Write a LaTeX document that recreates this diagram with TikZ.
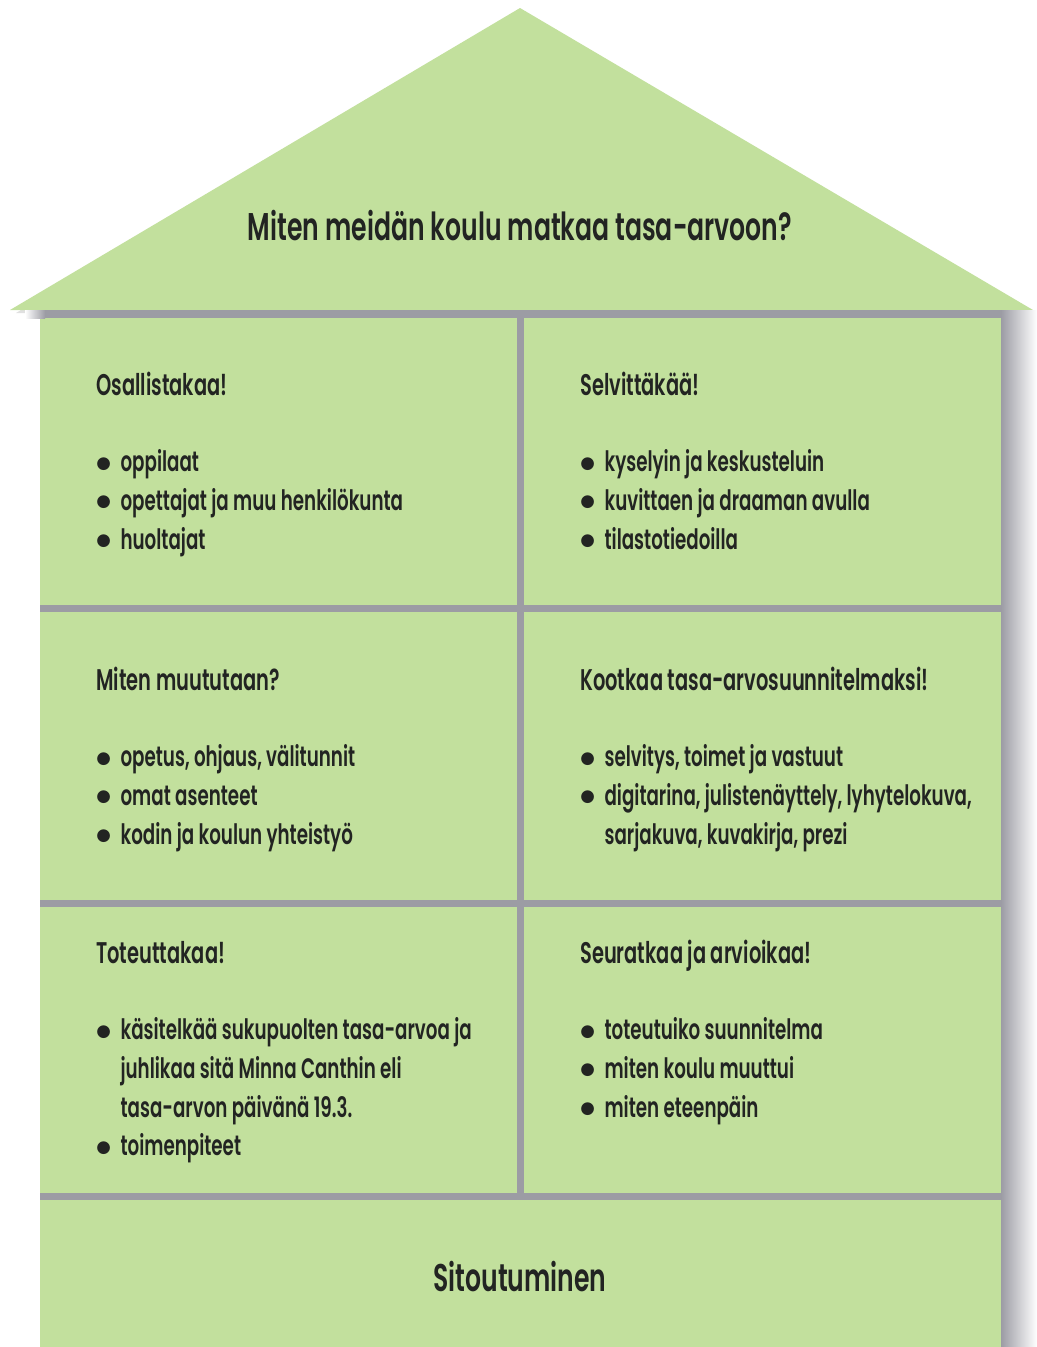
\documentclass[tikz,border=0pt]{standalone}
\usepackage{fontspec}
\setmainfont[FakeStretch=0.65,BoldFont={Poppins SemiBold}]{Poppins}
\newfontfamily\dotfont{DejaVu Sans}
\usetikzlibrary{positioning}
\definecolor{housegreen}{RGB}{194,224,157}
\definecolor{wallgray}{RGB}{156,156,164}
\definecolor{inkdark}{RGB}{34,36,34}
\newcommand{\dotmark}{\raisebox{2.2pt}{\dotfont\fontsize{9.5}{10}\selectfont ●}}
\newcommand{\bulletrows}[1]{\begin{tabular}[t]{@{}c@{\hspace{5.5pt}}l@{}}#1\end{tabular}}
\tikzset{
  cellhead/.style={font=\fontsize{17}{22}\selectfont\bfseries,text=inkdark,anchor=base west,inner sep=0pt},
  celllist/.style={font=\fontsize{16}{22}\selectfont\bfseries,text=inkdark,inner sep=0pt,below=1.54cm of #1.base west,anchor=base west},
  bigtext/.style={font=\fontsize{22}{26}\selectfont\bfseries,text=inkdark,anchor=base,inner sep=0pt},
}

\begin{document}
\begin{tikzpicture}[x=0.02cm,y=-0.02cm]
\fill[white] (0,0) rectangle (1037,1347);
\useasboundingbox (0,0) rectangle (1037,1347);
% roof
\fill[black!12] (16,313) -- (524,12) -- (1037,313) -- cycle;
\fill[housegreen] (10,310) -- (520,8) -- (1033,310) -- cycle;
% walls
\fill[housegreen] (40,318) rectangle (1001,1347);
\shade[left color=wallgray,right color=white] (1001,310) rectangle (1037,1347);
\fill[wallgray] (45,310) rectangle (1001,318);
\shade[left color=white,right color=wallgray] (25,310) rectangle (45,318);
\fill[wallgray] (517,318) rectangle (524,1197);
\fill[wallgray] (40,605) rectangle (1001,612);
\fill[wallgray] (40,900) rectangle (1001,907);
\fill[wallgray] (40,1193) rectangle (1001,1200);

\node[bigtext] (title) at (520,240) {Miten meidän koulu matkaa tasa-arvoon?};

\node[cellhead] (osall) at (96,395) {Osallistakaa!};
\node[celllist=osall] (osalllist) {\bulletrows{\dotmark & oppilaat\\ \dotmark & opettajat ja muu henkilökunta\\ \dotmark & huoltajat}};
\node[cellhead] (selv) at (580,395) {Selvittäkää!};
\node[celllist=selv] (selvlist) {\bulletrows{\dotmark & kyselyin ja keskusteluin\\ \dotmark & kuvittaen ja draaman avulla\\ \dotmark & tilastotiedoilla}};

\node[cellhead] (muut) at (96,690) {Miten muututaan?};
\node[celllist=muut] (muutlist) {\bulletrows{\dotmark & opetus, ohjaus, välitunnit\\ \dotmark & omat asenteet\\ \dotmark & kodin ja koulun yhteistyö}};
\node[cellhead] (koot) at (580,690) {Kootkaa tasa-arvosuunnitelmaksi!};
\node[celllist=koot] (kootlist) {\bulletrows{\dotmark & selvitys, toimet ja vastuut\\ \dotmark & digitarina, julistenäyttely, lyhytelokuva,\\ & sarjakuva, kuvakirja, prezi}};

\node[cellhead] (tote) at (96,963) {Toteuttakaa!};
\node[celllist=tote] (totelist) {\bulletrows{\dotmark & käsitelkää sukupuolten tasa-arvoa ja\\ & juhlikaa sitä Minna Canthin eli\\ & tasa-arvon päivänä 19.3.\\ \dotmark & toimenpiteet}};
\node[cellhead] (seur) at (580,963) {Seuratkaa ja arvioikaa!};
\node[celllist=seur] (seurlist) {\bulletrows{\dotmark & toteutuiko suunnitelma\\ \dotmark & miten koulu muuttui\\ \dotmark & miten eteenpäin}};

\node[bigtext] (sitou) at (520,1291) {Sitoutuminen};
\end{tikzpicture}
\end{document}
